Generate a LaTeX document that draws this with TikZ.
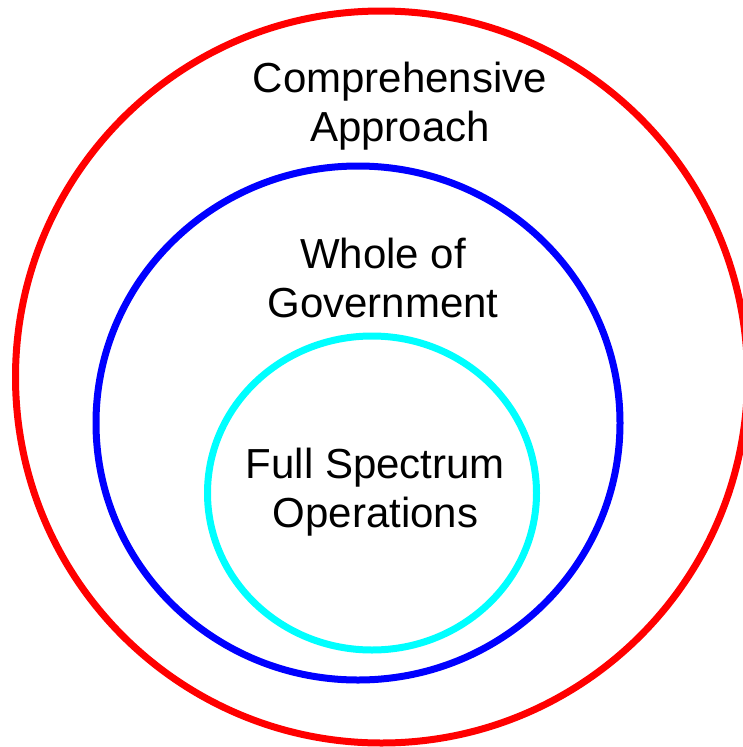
\documentclass[tikz,border=0pt]{standalone}
\usepackage{fontspec}
\setmainfont{Liberation Sans}
\usetikzlibrary{positioning}
\begin{document}
\begin{tikzpicture}[x=1pt,y=-1pt]
\definecolor{ringA}{HTML}{FF0000}
\definecolor{ringB}{HTML}{0000FF}
\definecolor{ringC}{HTML}{00FFFF}
\tikzset{
  ring/.style={line width=7pt},
  ringlabel/.style={align=center,inner sep=0pt,font=\fontsize{42}{49}\selectfont}
}
\useasboundingbox (0,0) rectangle (743,747);
\foreach \cx/\cy/\rx/\ry/\col in {381.5/377/366/366/ringA,358/423/262/257/ringB,372/493/164.5/157/ringC} {
  \draw[ring,draw=\col] (\cx,\cy) ellipse [x radius=\rx, y radius=\ry];
}
% Labels, one per ring
\node[ringlabel] (comprehensive) at (400,106.5) {Comprehensive\\Approach};
\node[ringlabel] (whole) at (383,278) {Whole of\\Government};
\node[ringlabel] (fullspectrum) at (375.5,492) {Full Spectrum\\Operations};
\end{tikzpicture}
\end{document}
